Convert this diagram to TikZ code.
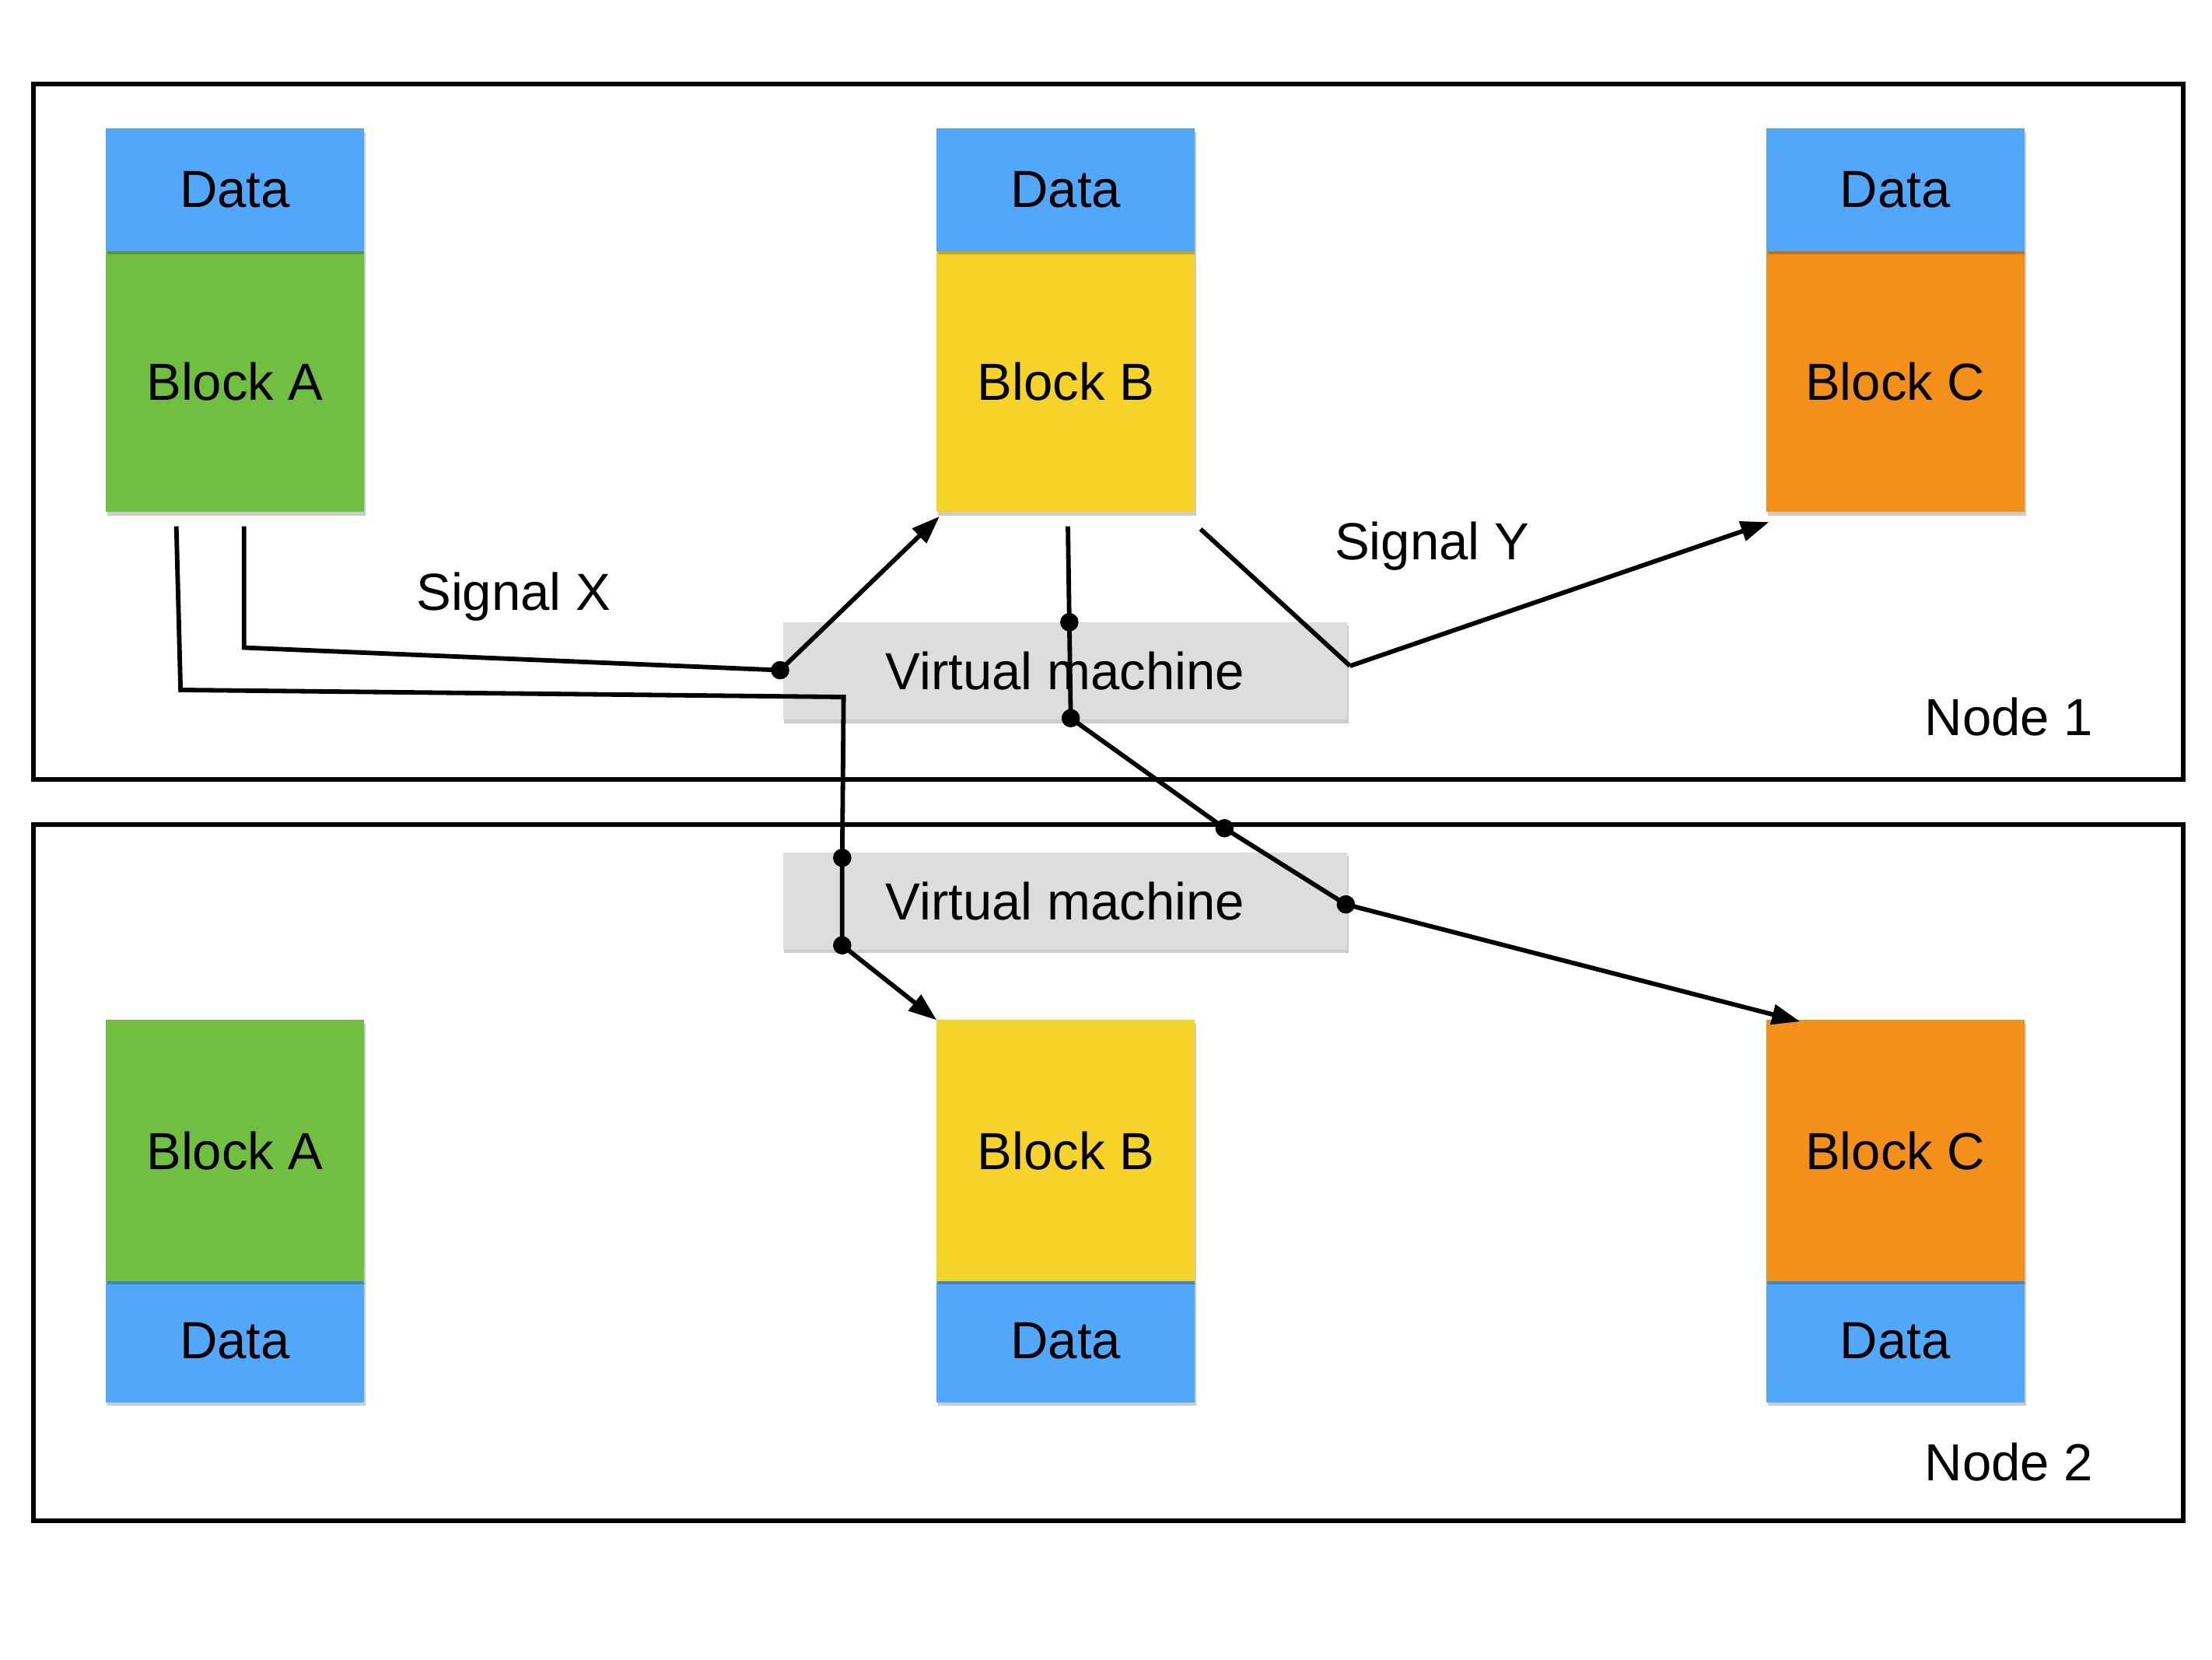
\documentclass[tikz,border=0pt]{standalone}
\usepackage{fontspec}
\setmainfont{Liberation Sans}
\usetikzlibrary{arrows.meta,shadows,calc}
\definecolor{cData}{HTML}{51A7F9}
\definecolor{cGreen}{HTML}{70BF41}
\definecolor{cYellow}{HTML}{F5D328}
\definecolor{cOrange}{HTML}{F2901A}
\definecolor{cVM}{HTML}{DCDDDF}
\begin{document}
\begin{tikzpicture}[x=1pt,y=-1pt,
  lbl/.style={font=\fontsize{37}{44}\selectfont, inner sep=0pt},
  box/.style={lbl, minimum width=183pt, anchor=north west, outer sep=0pt,
    drop shadow={shadow xshift=1pt, shadow yshift=-2.5pt, opacity=0.2, fill=black}},
  databox/.style={box, fill=cData, minimum height=87pt},
  blockbox/.style={box, minimum height=185pt},
  vmbox/.style={box, fill=cVM, minimum width=400pt, minimum height=69pt},
  frame/.style={draw=black, line width=3.3pt},
  wire/.style={draw=black, line width=3.2pt, line join=miter},
  arr/.style={wire, -{Triangle[length=20pt, width=14pt]}},
  dot/.style={fill=black}
]
\useasboundingbox (0,0) rectangle (1568,1176);
\fill[white] (0,0) rectangle (1568,1176);

% frames
\node[frame, minimum width=1524pt, minimum height=493pt, anchor=north west, inner sep=0pt] (n1) at (22,58) {};
\node[frame, minimum width=1524pt, minimum height=493pt, anchor=north west, inner sep=0pt] (n2) at (22,583) {};
\node[lbl] (n1l) at (1424,508) {Node 1};
\node[lbl] (n2l) at (1424,1036) {Node 2};

% top blocks
\node[blockbox, fill=cGreen] (bA1) at (75,178) {Block A};
\node[databox] (dA1) at (75,91) {Data};
\node[blockbox, fill=cYellow] (bB1) at (664,178) {Block B};
\node[databox] (dB1) at (664,91) {Data};
\node[blockbox, fill=cOrange] (bC1) at (1252,178) {Block C};
\node[databox] (dC1) at (1252,91) {Data};

% bottom blocks
\node[databox] (dA2) at (75,907) {Data};
\node[blockbox, fill=cGreen] (bA2) at (75,723) {Block A};
\node[databox] (dB2) at (664,907) {Data};
\node[blockbox, fill=cYellow] (bB2) at (664,723) {Block B};
\node[databox] (dC2) at (1252,907) {Data};
\node[blockbox, fill=cOrange] (bC2) at (1252,723) {Block C};

% virtual machines
\node[vmbox] (vm1) at (555,441) {Virtual machine};
\node[vmbox] (vm2) at (555,604) {Virtual machine};

% labels
\node[lbl] (sx) at (364,423) {Signal X};
\node[lbl] (sy) at (1015,387) {Signal Y};

% wire coordinates
\coordinate (x1) at (173,373);
\coordinate (x2) at (173,459);
\coordinate (x3) at (553,475);
\coordinate (w1) at (125,373);
\coordinate (w2) at (128,489);
\coordinate (w3) at (598,494);
\coordinate (w4) at (597,608);
\coordinate (w5) at (597,670);
\coordinate (m1) at (757,373);
\coordinate (m2) at (758,441);
\coordinate (m3) at (759,509);
\coordinate (m4) at (868,587);
\coordinate (m5) at (954,641);
\coordinate (y1) at (851,375);
\coordinate (y2) at (957,472);

% wires
\draw[wire] (x1) -- (x2) -- (x3);
\draw[arr] (x3) -- ($(bB1.south west)+(2,3)$);
\draw[wire] (w1) -- (w2) -- (w3) -- (w4) -- (w5);
\draw[arr] (w5) -- (bB2.north west);
\draw[wire] (m1) -- (m2) -- (m3) -- (m4) -- (m5);
\draw[arr] (m5) -- ($(bC2.north west)+(24,1)$);
\draw[wire] (y1) -- (y2);
\draw[arr] (y2) -- ($(bC1.south west)+(2,7)$);

% dots
\foreach \p in {x3,w4,w5,m2,m3,m4,m5}
  \fill[dot] (\p) circle (6.5pt);
\end{tikzpicture}
\end{document}
